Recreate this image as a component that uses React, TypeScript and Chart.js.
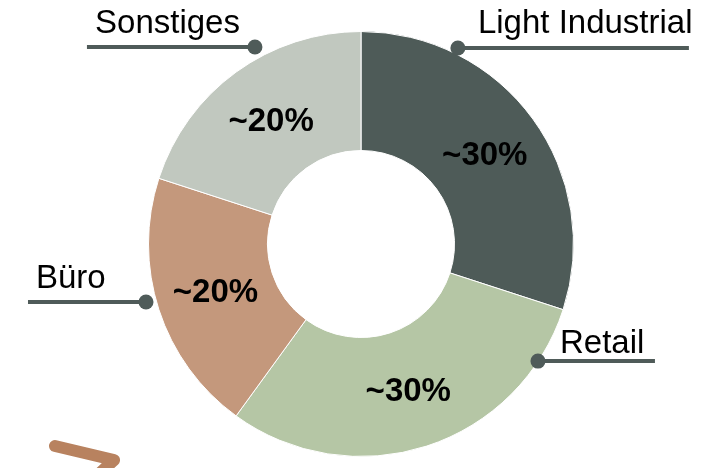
import React, { useEffect, useRef } from "react";
import { Chart, registerables } from "chart.js";

Chart.register(...registerables);

const categories = ["Light Industrial", "Retail", "Büro", "Sonstiges"];
const shares = [30, 30, 20, 20];
const shareLabels = ["~30%", "~30%", "~20%", "~20%"];
const colors = ["#4e5b58", "#b5c6a5", "#c4987c", "#c1c8bf"];

// callout geometry: angle (deg clockwise from top), distance from centre, line length, text offsets
const callouts = [
  { angle: 26.3, dist: 218.7, line: 231, tx: 20, ty: -15, align: "left" },
  { angle: 123.5, dist: 212.2, line: 117, tx: 22, ty: -8, align: "left" },
  { angle: 254.9, dist: 222.7, line: -118, tx: -110, ty: -14, align: "left" },
  { angle: 331.7, dist: 223.7, line: -168, tx: -15, ty: -14, align: "right" },
];

const FONT = '"Liberation Sans", Arial, Helvetica, sans-serif';

const overlayPlugin = {
  id: "overlay",
  afterDatasetsDraw(chart: any) {
    const ctx = chart.ctx;
    const meta = chart.getDatasetMeta(0);
    ctx.save();
    // percentage labels
    ctx.fillStyle = "#000";
    ctx.font = `bold 33px ${FONT}`;
    ctx.textAlign = "center";
    ctx.textBaseline = "middle";
    meta.data.forEach((arc: any, i: number) => {
      const p = arc.getCenterPoint();
      ctx.fillText(shareLabels[i], p.x, p.y + 2);
    });
    // callouts
    const first = meta.data[0];
    const cx = first.x;
    const cy = first.y;
    const lineColor = "#4f5b59";
    callouts.forEach((c, i) => {
      const a = (c.angle * Math.PI) / 180;
      const dx = cx + c.dist * Math.sin(a);
      const dy = cy - c.dist * Math.cos(a);
      ctx.strokeStyle = lineColor;
      ctx.lineWidth = 4;
      ctx.lineCap = "butt";
      ctx.beginPath();
      ctx.moveTo(dx, dy);
      ctx.lineTo(dx + c.line, dy);
      ctx.stroke();
      ctx.fillStyle = lineColor;
      ctx.beginPath();
      ctx.arc(dx, dy, 7.5, 0, Math.PI * 2);
      ctx.fill();
      ctx.fillStyle = "#000";
      ctx.font = `33px ${FONT}`;
      ctx.textAlign = c.align as CanvasTextAlign;
      ctx.textBaseline = "alphabetic";
      ctx.fillText(categories[i], dx + c.tx, dy + c.ty);
    });
    // decorative brown stroke, bottom-left
    ctx.strokeStyle = "#b8825f";
    ctx.lineWidth = 12;
    ctx.lineCap = "round";
    ctx.lineJoin = "round";
    ctx.beginPath();
    ctx.moveTo(cx - 306, cy + 202);
    ctx.lineTo(cx - 247, cy + 216);
    ctx.lineTo(cx - 262, cy + 230);
    ctx.stroke();
    ctx.restore();
  },
};

export default function App() {
  const ref = useRef<HTMLCanvasElement | null>(null);
  useEffect(() => {
    if (!ref.current) return;
    const chart = new Chart(ref.current, {
      type: "doughnut",
      data: {
        labels: categories,
        datasets: [
          {
            data: shares,
            backgroundColor: colors,
            borderColor: "#ffffff",
            borderWidth: 1,
          },
        ],
      },
      options: {
        responsive: false,
        animation: false,
        cutout: "44%",
        layout: { padding: { top: 31, bottom: 11, left: 0, right: 0 } },
        plugins: { legend: { display: false }, tooltip: { enabled: false } },
      },
      plugins: [overlayPlugin],
    });
    return () => chart.destroy();
  }, []);
  return (
    <div style={{ position: "fixed", left: 0, top: 0, width: 722, height: 468, background: "#fff" }}>
      <canvas ref={ref} width={722} height={468} style={{ display: "block" }} />
    </div>
  );
}
